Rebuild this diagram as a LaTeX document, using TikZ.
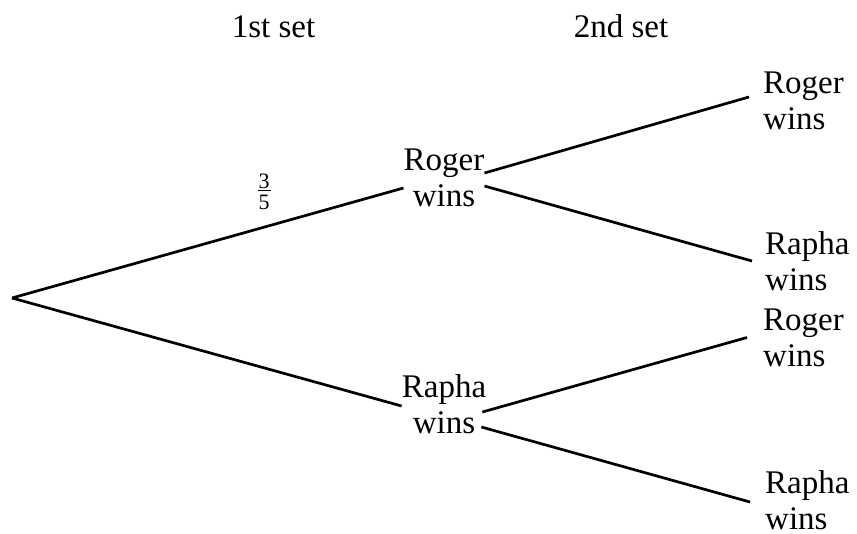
\documentclass[tikz,border=0pt]{standalone}
\usepackage{fontspec}
\setmainfont{Liberation Serif}
\begin{document}
\begin{tikzpicture}[x=1pt,y=-1pt,
  lbl/.style={inner sep=0pt,font=\fontsize{33}{36}\selectfont},
  mid/.style={lbl,align=center},
  leaf/.style={lbl,align=left,anchor=west},
  branch/.style={line width=2.7pt}]
\useasboundingbox (0,0) rectangle (857,533);
\node[lbl,anchor=base] (h1) at (273.5,37) {1st set};
\node[lbl,anchor=base] (h2) at (621,37) {2nd set};
\coordinate (root) at (12,298);
\node[mid] (n1) at (444,177.5) {Roger\\wins};
\node[mid] (n2) at (444,404) {Rapha\\wins};
\node[leaf] (l1) at (763,101) {Roger\\wins};
\node[leaf] (l2) at (765,261) {Rapha\\wins};
\node[leaf] (l3) at (763,337.5) {Roger\\wins};
\node[leaf] (l4) at (765,500.5) {Rapha\\wins};
\node[inner sep=0pt,font=\fontsize{22}{22}\selectfont] (p) at (264,191.5)
  {\vbox{\hbox to 13pt{\hfil 3\hfil}\kern1.5pt\hrule height 1pt\kern4pt\hbox to 13pt{\hfil 5\hfil}}};
\draw[branch] (root) -- ([yshift=-10.5pt]n1.west);
\draw[branch] (root) -- ([yshift=-2pt]n2.west);
\draw[branch] ([yshift=4.5pt]n1.east) -- ([xshift=-14pt,yshift=4pt]l1.west);
\draw[branch] ([yshift=-8.5pt]n1.east) -- ([xshift=-13pt]l2.west);
\draw[branch] ([xshift=-4pt,yshift=-8pt]n2.east) -- ([xshift=-16pt]l3.west);
\draw[branch] ([xshift=-5pt,yshift=-23pt]n2.east) -- ([xshift=-15pt,yshift=-1.5pt]l4.west);
\end{tikzpicture}
\end{document}
